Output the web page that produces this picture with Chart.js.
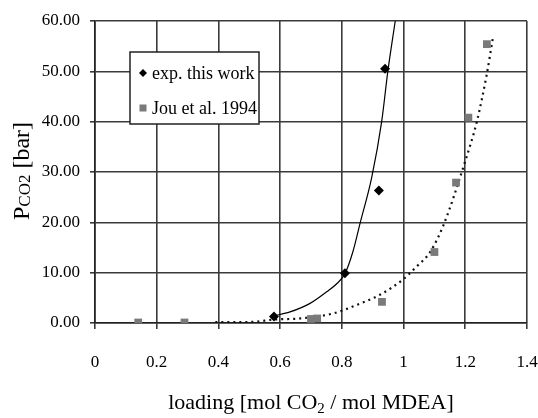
<!DOCTYPE html>
<html>
<head>
<meta charset="utf-8">
<script src="https://cdn.jsdelivr.net/npm/chart.js@4.4.0/dist/chart.umd.min.js"></script>
<style>
  html, body { margin: 0; padding: 0; background: #fff; }
  canvas { display: block; }
</style>
</head>
<body>
<canvas id="chart" width="538" height="418"></canvas>
<script>
const loadingExp = [0.58, 0.81, 0.92, 0.94];
const pressureExp = [1.3, 9.9, 26.3, 50.5];

const loadingJou = [0.14, 0.29, 0.70, 0.72, 0.93, 1.10, 1.17, 1.21, 1.27];
const pressureJou = [0.1, 0.1, 0.8, 0.9, 4.2, 14.1, 27.9, 40.8, 55.4];

// trend curves
const fitExpX = [0.578, 0.632, 0.697, 0.751, 0.785, 0.81, 0.835, 0.859, 0.897, 0.929, 0.949, 0.973];
const fitExpY = [1.4, 2.2, 3.9, 6.2, 7.9, 9.8, 14.0, 19.8, 29.0, 40.0, 50.0, 60.0];

const fitJouX = [0.39, 0.50, 0.583, 0.664, 0.772, 0.848, 0.923, 0.999, 1.042, 1.086, 1.129, 1.199, 1.237, 1.269, 1.289];
const fitJouY = [0.2, 0.2, 0.7, 0.9, 1.9, 3.6, 5.6, 8.7, 11.2, 14.1, 19.4, 32.0, 39.9, 49.2, 56.5];

const xTicks = [0, 0.2, 0.4, 0.6, 0.8, 1, 1.2, 1.4];
const yTicks = [0, 10, 20, 30, 40, 50, 60];

const seriesNames = ["exp. this work", "Jou et al. 1994"];

function pairs(xs, ys) {
  return xs.map((x, i) => ({ x: x, y: ys[i] }));
}

const serif = "'Liberation Serif', 'Times New Roman', serif";
const gridCol = "#3a3a3a";

// axis titles with subscripts + legend box
const extras = {
  id: "extras",
  afterDraw(chart) {
    const ctx = chart.ctx;
    const area = chart.chartArea;
    ctx.save();
    ctx.fillStyle = "#000";
    ctx.textBaseline = "alphabetic";

    // x title
    const big = "22px " + serif, small = "15px " + serif;
    ctx.font = big;
    const a = "loading [mol CO", c = " / mol MDEA]";
    const wa = ctx.measureText(a).width, wc = ctx.measureText(c).width;
    ctx.font = small;
    const wb = ctx.measureText("2").width;
    let x0 = (area.left + area.right) / 2 - (wa + wb + wc) / 2;
    const by = 409;
    ctx.font = big; ctx.fillText(a, x0, by);
    ctx.font = small; ctx.fillText("2", x0 + wa, by + 4);
    ctx.font = big; ctx.fillText(c, x0 + wa + wb, by);

    // y title, rotated
    ctx.translate(29, 171);
    ctx.rotate(-Math.PI / 2);
    const yb = "24px " + serif, ys = "17px " + serif;
    ctx.font = yb;
    const p = "P", bar = " [bar]";
    const wp = ctx.measureText(p).width, wbar = ctx.measureText(bar).width;
    ctx.font = ys;
    const wco = ctx.measureText("CO2").width;
    let s = -(wp + wco + wbar) / 2;
    ctx.font = yb; ctx.fillText(p, s, 0);
    ctx.font = ys; ctx.fillText("CO2", s + wp, 1);
    ctx.font = yb; ctx.fillText(bar, s + wp + wco, 0);
    ctx.restore();

    // legend
    ctx.save();
    ctx.fillStyle = "#fff";
    ctx.fillRect(130, 52, 129, 72);
    ctx.strokeStyle = "#222";
    ctx.lineWidth = 1.5;
    ctx.strokeRect(130, 52, 129, 72);
    ctx.fillStyle = "#000";
    ctx.beginPath();
    ctx.moveTo(143, 69); ctx.lineTo(147, 73); ctx.lineTo(143, 77); ctx.lineTo(139, 73);
    ctx.closePath(); ctx.fill();
    ctx.fillStyle = "#7a7a7a";
    ctx.fillRect(139.5, 104.5, 7, 7);
    ctx.fillStyle = "#000";
    ctx.font = "18px " + serif;
    ctx.textBaseline = "middle";
    ctx.fillText(seriesNames[0], 152, 74);
    ctx.fillText(seriesNames[1], 152, 109);
    ctx.restore();
  }
};

const ctx = document.getElementById("chart").getContext("2d");
const chart = new Chart(ctx, {
  type: "scatter",
  data: {
    datasets: [
      {
        label: seriesNames[0],
        data: pairs(loadingExp, pressureExp),
        pointStyle: "rectRot",
        pointRadius: 5,
        backgroundColor: "#000",
        borderColor: "#000",
        borderWidth: 0,
        order: 0
      },
      {
        label: seriesNames[1],
        data: pairs(loadingJou, pressureJou),
        pointStyle: "rect",
        pointRadius: 5.5,
        backgroundColor: "#7a7a7a",
        borderColor: "#6e6e6e",
        borderWidth: 0,
        order: 0
      },
      {
        label: "fit exp",
        data: pairs(fitExpX, fitExpY),
        showLine: true,
        pointRadius: 0,
        borderColor: "#000",
        borderWidth: 1.2,
        cubicInterpolationMode: "monotone",
        order: 1
      },
      {
        label: "fit Jou",
        data: pairs(fitJouX, fitJouY),
        showLine: true,
        pointRadius: 0,
        borderColor: "#111",
        borderWidth: 2.2,
        borderDash: [2, 4],
        cubicInterpolationMode: "monotone",
        order: 1
      }
    ]
  },
  options: {
    responsive: false,
    animation: false,
    devicePixelRatio: 1,
    layout: { padding: { top: 21, right: 11, left: 0, bottom: 0 } },
    plugins: {
      legend: { display: false },
      tooltip: { enabled: false }
    },
    scales: {
      x: {
        type: "linear",
        min: 0,
        max: 1.4,
        afterBuildTicks: (scale) => { scale.ticks = xTicks.map(v => ({ value: v })); },
        afterFit: (scale) => {
          scale.height = 95;
          scale.paddingLeft = 0;
          scale.paddingRight = 0;
        },
        ticks: {
          callback: (v) => String(+v.toFixed(1)),
          color: "#000",
          font: { family: serif, size: 17 },
          padding: 23,
          maxRotation: 0
        },
        grid: { color: gridCol, lineWidth: 1.6, tickLength: 6 },
        border: { color: "#222", width: 1.6 }
      },
      y: {
        min: 0,
        max: 60,
        afterBuildTicks: (scale) => { scale.ticks = yTicks.map(v => ({ value: v })); },
        afterFit: (scale) => { scale.width = 95; },
        ticks: {
          callback: (v) => v.toFixed(2),
          color: "#000",
          font: { family: serif, size: 17 },
          padding: 10
        },
        grid: { color: gridCol, lineWidth: 1.6, tickLength: 5 },
        border: { color: "#222", width: 1.6 }
      }
    }
  },
  plugins: [extras]
});
</script>
</body>
</html>
